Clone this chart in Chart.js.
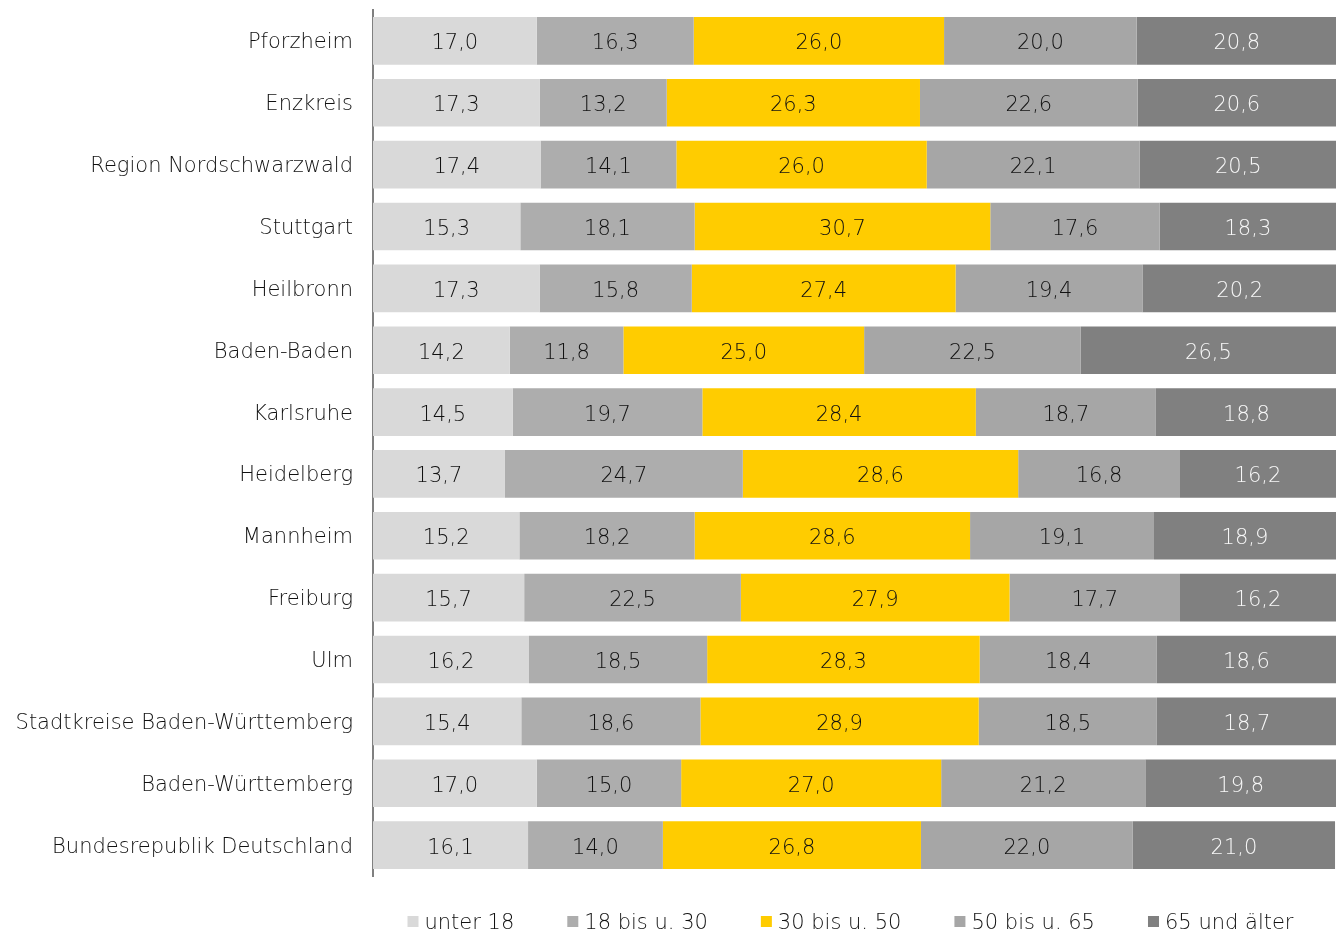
<!DOCTYPE html>
<html>
<head>
<meta charset="utf-8">
<script src="https://cdn.jsdelivr.net/npm/chart.js@4.4.1/dist/chart.umd.min.js"></script>
<style>
  body { margin: 0; background: #fff; }
  #wrap { width: 1336px; height: 931px; position: relative; }
</style>
</head>
<body>
<div id="wrap"><canvas id="chart"></canvas></div>
<script>
let categories = [
  'Pforzheim', 'Enzkreis', 'Region Nordschwarzwald', 'Stuttgart', 'Heilbronn',
  'Baden-Baden', 'Karlsruhe', 'Heidelberg', 'Mannheim', 'Freiburg', 'Ulm',
  'Stadtkreise Baden-Württemberg', 'Baden-Württemberg', 'Bundesrepublik Deutschland'
]

let seriesNames = ['unter 18', '18 bis u. 30', '30 bis u. 50', '50 bis u. 65', '65 und älter']

let unter18   = [17.0, 17.3, 17.4, 15.3, 17.3, 14.2, 14.5, 13.7, 15.2, 15.7, 16.2, 15.4, 17.0, 16.1]
let bis30     = [16.3, 13.2, 14.1, 18.1, 15.8, 11.8, 19.7, 24.7, 18.2, 22.5, 18.5, 18.6, 15.0, 14.0]
let bis50     = [26.0, 26.3, 26.0, 30.7, 27.4, 25.0, 28.4, 28.6, 28.6, 27.9, 28.3, 28.9, 27.0, 26.8]
let bis65     = [20.0, 22.6, 22.1, 17.6, 19.4, 22.5, 18.7, 16.8, 19.1, 17.7, 18.4, 18.5, 21.2, 22.0]
let ab65      = [20.8, 20.6, 20.5, 18.3, 20.2, 26.5, 18.8, 16.2, 18.9, 16.2, 18.6, 18.7, 19.8, 21.0]

let colors = ['#d9d9d9', '#adadad', '#ffcc00', '#a6a6a6', '#808080']
let labelColors = ['#111111', '#111111', '#111111', '#111111', '#f8f8f8']

let fontFamily = '"DejaVu Sans", sans-serif'
let textFont = '200 21px ' + fontFamily

let values = [unter18, bis30, bis50, bis65, ab65]
let datasets = values.map(function(v, i) {
  return {
    label: seriesNames[i],
    data: v,
    backgroundColor: colors[i],
    borderWidth: 0,
    barPercentage: 1,
    categoryPercentage: 0.77
  }
})

// draws the value in the middle of every bar segment
let valueLabels = {
  id: 'valueLabels',
  afterDatasetsDraw: function(chart) {
    let ctx = chart.ctx
    ctx.save()
    ctx.font = textFont
    ctx.textAlign = 'center'
    ctx.textBaseline = 'middle'
    chart.data.datasets.forEach(function(ds, i) {
      let meta = chart.getDatasetMeta(i)
      meta.data.forEach(function(bar, j) {
        let x = (bar.x + bar.base) / 2
        ctx.fillStyle = labelColors[i]
        ctx.fillText(ds.data[j].toFixed(1).replace('.', ','), x, bar.y + 3)
      })
    })
    ctx.restore()
  }
}

// legend row under the plot, centred on the chart area
let bottomLegend = {
  id: 'bottomLegend',
  afterDraw: function(chart) {
    let ctx = chart.ctx
    let box = 11, gapText = 6, gapItem = 53
    ctx.save()
    ctx.font = textFont
    ctx.textBaseline = 'middle'
    ctx.textAlign = 'left'
    let widths = chart.data.datasets.map(function(ds) { return ctx.measureText(ds.label).width })
    let total = widths.reduce(function(a, w) { return a + box + gapText + w }, 0) + gapItem * (widths.length - 1)
    let area = chart.chartArea
    let x = (area.left + area.right) / 2 - total / 2 - 4
    let y = 922
    chart.data.datasets.forEach(function(ds, i) {
      ctx.fillStyle = ds.backgroundColor
      ctx.fillRect(x, y - 6, box, box)
      x += box + gapText
      ctx.fillStyle = '#111111'
      ctx.fillText(ds.label, x, y + 2)
      x += widths[i] + gapItem
    })
    ctx.restore()
  }
}

new Chart(document.getElementById('chart'), {
  type: 'bar',
  data: { labels: categories, datasets: datasets },
  plugins: [valueLabels, bottomLegend],
  options: {
    indexAxis: 'y',
    responsive: true,
    maintainAspectRatio: false,
    animation: false,
    layout: { padding: { top: 10, right: 0, bottom: 55, left: 0 } },
    scales: {
      x: {
        stacked: true,
        min: 0,
        max: 100,
        display: false
      },
      y: {
        stacked: true,
        grid: { display: false },
        border: { display: true, color: '#808080', width: 2 },
        ticks: {
          color: '#111111',
          padding: 12,
          labelOffset: 2,
          font: { family: fontFamily, size: 21, weight: '200' }
        },
        afterFit: function(scale) {
          scale.width = 373
          scale.paddingTop = 0
          scale.paddingBottom = 0
        }
      }
    },
    plugins: {
      tooltip: { enabled: false },
      legend: { display: false }
    }
  }
})
</script>
</body>
</html>
